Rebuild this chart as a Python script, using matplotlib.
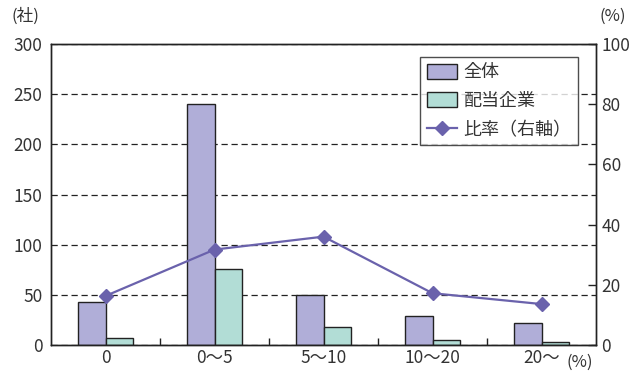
import matplotlib
matplotlib.use("Agg")
import matplotlib.pyplot as plt
import numpy as np

plt.rcParams['font.family'] = ['Noto Sans CJK JP', 'DejaVu Sans']

categories = ["0", "0～5", "5～10", "10～20", "20～"]
total = [43, 240, 50, 29, 22]
paying = [7, 76, 18, 5, 3]
ratio = [16.3, 31.7, 36.0, 17.2, 13.6]

purple = "#b0aed8"
teal = "#b2ddd6"
line_c = "#6a62ac"
text_c = "#333333"

fig = plt.figure(figsize=(6.29, 3.72), dpi=100)
ax = fig.add_axes([51/629, 27/372, 545/629, 301/372])
ax2 = ax.twinx()

x = np.arange(len(categories))
w = 0.25
ax.set_axisbelow(True)
ax.yaxis.grid(True, linestyle=(0, (5, 3)), color="#222222", linewidth=0.9)
ax.bar(x - w/2, total, w, color=purple, edgecolor="#222222", linewidth=1.0, label="全体", zorder=2)
ax.bar(x + w/2, paying, w, color=teal, edgecolor="#222222", linewidth=1.0, label="配当企業", zorder=2)

ax2.plot(x, ratio, color=line_c, linewidth=1.6, marker="D", markersize=7,
         label="比率（右軸）", zorder=3)

ax.set_xlim(-0.5, len(categories) - 0.5)
ax.set_ylim(0, 300)
ax2.set_ylim(0, 100)
ax.set_yticks(range(0, 301, 50))
ax2.set_yticks(range(0, 101, 20))
ax.set_xticks(x)
ax.set_xticklabels(categories)
ax.set_xticks(np.arange(0.5, len(categories) - 0.5, 1), minor=True)

ax.tick_params(axis="x", which="major", length=0, pad=3, labelsize=12.5, colors=text_c)
ax.tick_params(axis="x", which="minor", direction="in", length=5, width=1, color="#222222")
ax.tick_params(axis="y", length=0, pad=6, labelsize=12.5, colors=text_c)
ax2.tick_params(axis="y", direction="in", length=6, width=1, pad=4, labelsize=12.5,
                colors=text_c)
ax2.tick_params(axis="y", color="#222222")

for a in (ax, ax2):
    for s in a.spines.values():
        s.set_color("#222222")
        s.set_linewidth(1.0)

fig.text(25/629, 1 - 16/372, "(社)", fontsize=12, color=text_c, ha="center", va="center")
fig.text(613/629, 1 - 16/372, "(%)", fontsize=12, color=text_c, ha="center", va="center")
fig.text(580/629, 1 - 362/372, "(%)", fontsize=12, color=text_c, ha="center", va="center")

h1, l1 = ax.get_legend_handles_labels()
h2, l2 = ax2.get_legend_handles_labels()
leg = ax2.legend(h1 + h2, l1 + l2, loc="upper right", bbox_to_anchor=(527/545, 1 - 13/301),
                 fontsize=13, frameon=True, fancybox=False, handlelength=1.7,
                 handleheight=0.9, borderpad=0.35, labelspacing=0.6, handletextpad=0.35,
                 borderaxespad=0)
leg.get_frame().set_edgecolor("#222222")
leg.get_frame().set_linewidth(1.0)
for t in leg.get_texts():
    t.set_color(text_c)

fig.savefig("out.png", dpi=100)
